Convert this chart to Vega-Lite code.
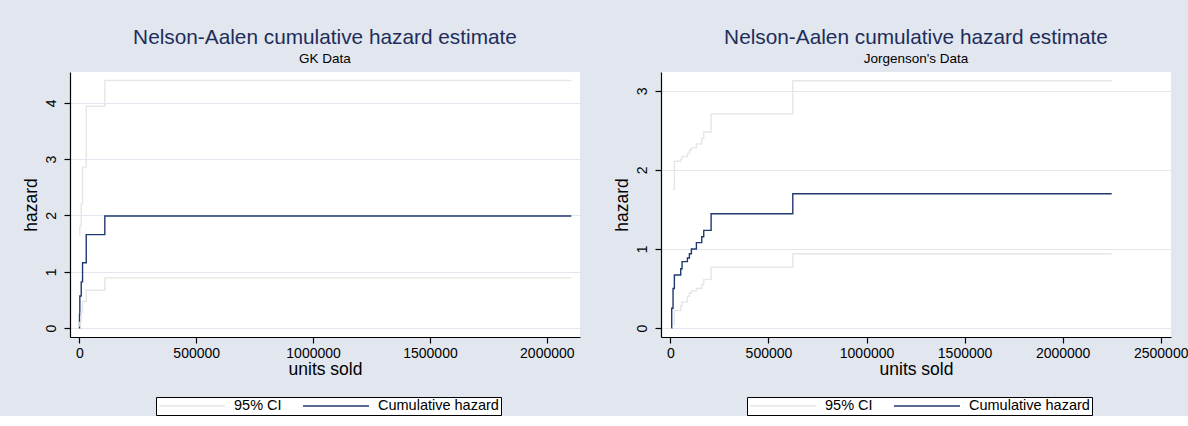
{
  "$schema": "https://vega.github.io/schema/vega-lite/v6.json",
  "background": "#E1E6EF",
  "padding": {"left": 22, "top": 26, "right": 0, "bottom": 0},
  "spacing": 32,
  "config": {
    "font": "Liberation Sans",
    "view": {"fill": "white", "stroke": null},
    "axis": {
      "domainColor": "black", "tickColor": "black", "labelColor": "black", "titleColor": "black",
      "labelFont": "Liberation Sans", "titleFont": "Liberation Sans",
      "labelFontSize": 14, "titleFontSize": 17.5, "titleFontWeight": "normal",
      "tickSize": 6, "gridColor": "#E3E7F0", "gridWidth": 1.2, "domainWidth": 1.2, "tickWidth": 1.2
    },
    "title": {"fontSize": 20.8, "fontWeight": "normal", "color": "#1E2D5A", "subtitleColor": "black", "subtitleFontSize": 13.5, "anchor": "middle", "offset": 6, "subtitlePadding": 3, "font": "Liberation Sans", "subtitleFont": "Liberation Sans"},
    "legend": {
      "title": null, "orient": "none", "direction": "horizontal", "symbolType": "stroke",
      "symbolSize": 4356, "symbolStrokeWidth": 1.5, "labelFontSize": 14.5, "labelColor": "black",
      "strokeColor": "black", "fillColor": "white", "padding": 2, "columnPadding": 20,
      "labelOffset": 8, "clipHeight": 14, "labelFont": "Liberation Sans"
    }
  },
  "resolve": {"scale": {"color": "independent"}, "legend": {"color": "independent"}},
  "hconcat": [
    {
      "width": 510, "height": 265,
      "title": {"text": "Nelson-Aalen cumulative hazard estimate", "subtitle": "GK Data"},
      "data": {"values": [
        {"series": "Cumulative hazard", "band": "est", "time": 0, "hazard": 0},
        {"series": "Cumulative hazard", "band": "est", "time": 700, "hazard": 0.24},
        {"series": "Cumulative hazard", "band": "est", "time": 2100, "hazard": 0.57},
        {"series": "Cumulative hazard", "band": "est", "time": 8100, "hazard": 0.82},
        {"series": "Cumulative hazard", "band": "est", "time": 13700, "hazard": 1.16},
        {"series": "Cumulative hazard", "band": "est", "time": 29500, "hazard": 1.66},
        {"series": "Cumulative hazard", "band": "est", "time": 109000, "hazard": 1.99},
        {"series": "Cumulative hazard", "band": "est", "time": 2105000, "hazard": 1.99},
        {"series": "95% CI", "band": "upper", "time": 700, "hazard": 1.65},
        {"series": "95% CI", "band": "upper", "time": 2100, "hazard": 1.81},
        {"series": "95% CI", "band": "upper", "time": 8100, "hazard": 2.21},
        {"series": "95% CI", "band": "upper", "time": 13700, "hazard": 2.86},
        {"series": "95% CI", "band": "upper", "time": 29500, "hazard": 3.94},
        {"series": "95% CI", "band": "upper", "time": 109000, "hazard": 4.40},
        {"series": "95% CI", "band": "upper", "time": 2105000, "hazard": 4.40},
        {"series": "95% CI", "band": "lower", "time": 700, "hazard": 0.03},
        {"series": "95% CI", "band": "lower", "time": 2100, "hazard": 0.10},
        {"series": "95% CI", "band": "lower", "time": 8100, "hazard": 0.28},
        {"series": "95% CI", "band": "lower", "time": 13700, "hazard": 0.47},
        {"series": "95% CI", "band": "lower", "time": 29500, "hazard": 0.67},
        {"series": "95% CI", "band": "lower", "time": 109000, "hazard": 0.89},
        {"series": "95% CI", "band": "lower", "time": 2105000, "hazard": 0.89}
      ]},
      "mark": {"type": "line", "interpolate": "step-after", "strokeWidth": 1.4},
      "encoding": {
        "x": {"field": "time", "type": "quantitative",
              "scale": {"domain": [-40000, 2142000], "nice": false, "zero": false},
              "axis": {"values": [0, 500000, 1000000, 1500000, 2000000], "format": "d", "title": "units sold", "grid": false, "titlePadding": 0, "labelPadding": 3}},
        "y": {"field": "hazard", "type": "quantitative",
              "scale": {"domain": [-0.16, 4.55], "nice": false, "zero": false},
              "axis": {"values": [0, 1, 2, 3, 4], "labelAngle": -90, "labelAlign": "center", "labelBaseline": "bottom", "title": "hazard", "grid": true, "labelPadding": 6, "titlePadding": 4}},
        "color": {"field": "series", "type": "nominal",
                  "scale": {"domain": ["95% CI", "Cumulative hazard"], "range": ["#E6E6E6", "#1F3A70"]},
                  "legend": {"legendX": 86, "legendY": 325}},
        "detail": {"field": "band"}
      }
    },
    {
      "width": 510, "height": 265,
      "title": {"text": "Nelson-Aalen cumulative hazard estimate", "subtitle": "Jorgenson's Data"},
      "data": {"values": [
        {"series": "Cumulative hazard", "band": "est", "time": 6000, "hazard": 0},
        {"series": "Cumulative hazard", "band": "est", "time": 6600, "hazard": 0.25},
        {"series": "Cumulative hazard", "band": "est", "time": 13400, "hazard": 0.50},
        {"series": "Cumulative hazard", "band": "est", "time": 20200, "hazard": 0.67},
        {"series": "Cumulative hazard", "band": "est", "time": 52600, "hazard": 0.75},
        {"series": "Cumulative hazard", "band": "est", "time": 59400, "hazard": 0.84},
        {"series": "Cumulative hazard", "band": "est", "time": 86600, "hazard": 0.885},
        {"series": "Cumulative hazard", "band": "est", "time": 96800, "hazard": 0.94},
        {"series": "Cumulative hazard", "band": "est", "time": 107000, "hazard": 1.00},
        {"series": "Cumulative hazard", "band": "est", "time": 132500, "hazard": 1.08},
        {"series": "Cumulative hazard", "band": "est", "time": 159700, "hazard": 1.155},
        {"series": "Cumulative hazard", "band": "est", "time": 170000, "hazard": 1.235},
        {"series": "Cumulative hazard", "band": "est", "time": 207500, "hazard": 1.445},
        {"series": "Cumulative hazard", "band": "est", "time": 624000, "hazard": 1.70},
        {"series": "Cumulative hazard", "band": "est", "time": 2250000, "hazard": 1.70},
        {"series": "95% CI", "band": "upper", "time": 13400, "hazard": 1.76},
        {"series": "95% CI", "band": "upper", "time": 20200, "hazard": 2.11},
        {"series": "95% CI", "band": "upper", "time": 52600, "hazard": 2.14},
        {"series": "95% CI", "band": "upper", "time": 59400, "hazard": 2.17},
        {"series": "95% CI", "band": "upper", "time": 86600, "hazard": 2.21},
        {"series": "95% CI", "band": "upper", "time": 96800, "hazard": 2.25},
        {"series": "95% CI", "band": "upper", "time": 107000, "hazard": 2.28},
        {"series": "95% CI", "band": "upper", "time": 132500, "hazard": 2.33},
        {"series": "95% CI", "band": "upper", "time": 159700, "hazard": 2.40},
        {"series": "95% CI", "band": "upper", "time": 170000, "hazard": 2.48},
        {"series": "95% CI", "band": "upper", "time": 207500, "hazard": 2.71},
        {"series": "95% CI", "band": "upper", "time": 624000, "hazard": 3.13},
        {"series": "95% CI", "band": "upper", "time": 2250000, "hazard": 3.13},
        {"series": "95% CI", "band": "lower", "time": 13400, "hazard": 0.05},
        {"series": "95% CI", "band": "lower", "time": 20200, "hazard": 0.22},
        {"series": "95% CI", "band": "lower", "time": 52600, "hazard": 0.28},
        {"series": "95% CI", "band": "lower", "time": 59400, "hazard": 0.33},
        {"series": "95% CI", "band": "lower", "time": 86600, "hazard": 0.40},
        {"series": "95% CI", "band": "lower", "time": 96800, "hazard": 0.44},
        {"series": "95% CI", "band": "lower", "time": 107000, "hazard": 0.47},
        {"series": "95% CI", "band": "lower", "time": 132500, "hazard": 0.50},
        {"series": "95% CI", "band": "lower", "time": 159700, "hazard": 0.55},
        {"series": "95% CI", "band": "lower", "time": 170000, "hazard": 0.615},
        {"series": "95% CI", "band": "lower", "time": 207500, "hazard": 0.77},
        {"series": "95% CI", "band": "lower", "time": 624000, "hazard": 0.94},
        {"series": "95% CI", "band": "lower", "time": 2250000, "hazard": 0.94}
      ]},
      "mark": {"type": "line", "interpolate": "step-after", "strokeWidth": 1.4},
      "encoding": {
        "x": {"field": "time", "type": "quantitative",
              "scale": {"domain": [-48000, 2552500], "nice": false, "zero": false},
              "axis": {"values": [0, 500000, 1000000, 1500000, 2000000, 2500000], "format": "d", "title": "units sold", "grid": false, "titlePadding": 0, "labelPadding": 3}},
        "y": {"field": "hazard", "type": "quantitative",
              "scale": {"domain": [-0.114, 3.24], "nice": false, "zero": false},
              "axis": {"values": [0, 1, 2, 3], "labelAngle": -90, "labelAlign": "center", "labelBaseline": "bottom", "title": "hazard", "grid": true, "labelPadding": 6, "titlePadding": 4}},
        "color": {"field": "series", "type": "nominal",
                  "scale": {"domain": ["95% CI", "Cumulative hazard"], "range": ["#E6E6E6", "#1F3A70"]},
                  "legend": {"legendX": 86, "legendY": 325}},
        "detail": {"field": "band"}
      }
    }
  ]
}
